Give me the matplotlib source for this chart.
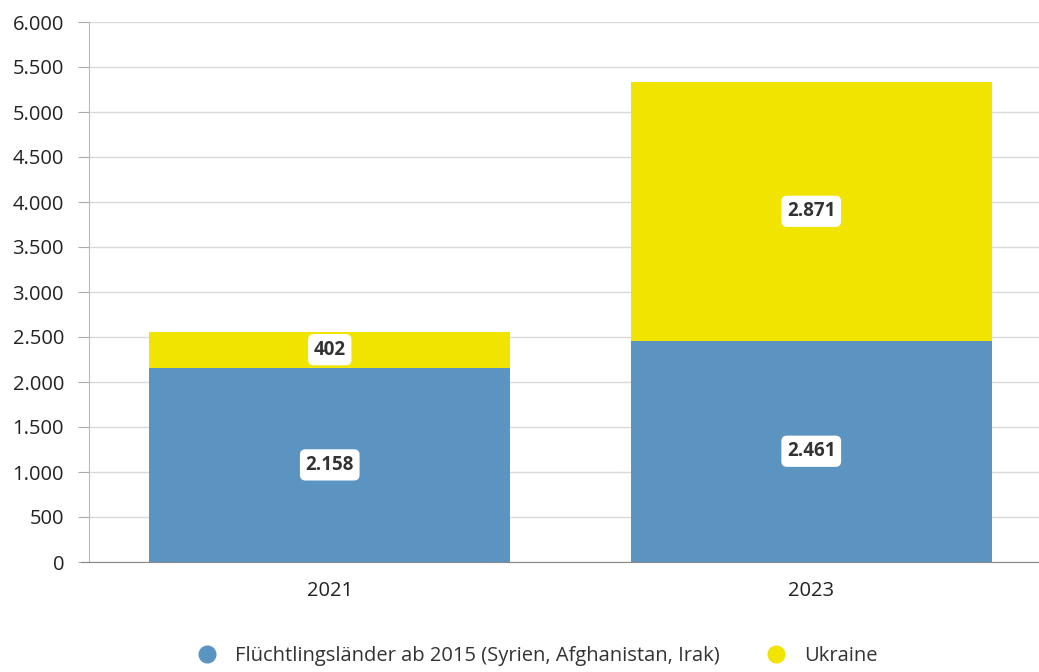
import matplotlib.pyplot as plt
from matplotlib.lines import Line2D

plt.rcParams['font.family'] = ['Open Sans', 'DejaVu Sans']

years = ['2021', '2023']
fluecht = [2158, 2461]
ukraine = [402, 2871]
labels_f = ['2.158', '2.461']
labels_u = ['402', '2.871']
yticks = [0, 500, 1000, 1500, 2000, 2500, 3000, 3500, 4000, 4500, 5000, 5500, 6000]
ytick_labels = ['0', '500', '1.000', '1.500', '2.000', '2.500', '3.000', '3.500',
                '4.000', '4.500', '5.000', '5.500', '6.000']

blue = '#5b94c1'
yellow = '#f0e400'

fig = plt.figure(figsize=(10.39, 6.72), dpi=100)
ax = fig.add_axes([89/1039, 110/672, 963/1039, 540/672])

x = range(len(years))
ax.bar(x, fluecht, width=0.75, color=blue, zorder=2)
ax.bar(x, ukraine, width=0.75, bottom=fluecht, color=yellow, zorder=2)

box = dict(boxstyle='round,pad=0.3,rounding_size=0.3', fc='white', ec='none')
for i in x:
    ax.text(i, fluecht[i] / 2, labels_f[i], ha='center', va='center',
            fontsize=13.5, fontweight='bold', color='#333333', bbox=box, zorder=3)
    ax.text(i, fluecht[i] + ukraine[i] / 2, labels_u[i], ha='center', va='center',
            fontsize=13.5, fontweight='bold', color='#333333', bbox=box, zorder=3)

ax.set_xlim(-0.5, 1.5)
ax.set_ylim(0, 6000)
ax.set_yticks(yticks)
ax.set_yticklabels(ytick_labels, fontsize=14.5, color='#222222')
ax.set_xticks(list(x))
ax.set_xticklabels(years, fontsize=14.5, color='#222222')
ax.tick_params(axis='y', length=8, color='#aaaaaa', pad=10)
ax.tick_params(axis='x', length=0, pad=14)
ax.grid(axis='y', color='#d9d9d9', linewidth=1, zorder=0)
for s in ['top', 'right']:
    ax.spines[s].set_visible(False)
ax.spines['left'].set_color('#bbbbbb')
ax.spines['bottom'].set_color('#888888')
ax.spines['bottom'].set_bounds(-0.5 - 8 / 481.5, 1.5)

handles = [Line2D([], [], marker='o', linestyle='', markersize=12, color=blue),
           Line2D([], [], marker='o', linestyle='', markersize=12, color=yellow)]
fig.legend(handles, ['Flüchtlingsländer ab 2015 (Syrien, Afghanistan, Irak)', 'Ukraine'],
           loc='center', bbox_to_anchor=(532/1039, 1 - 656/672), ncol=2, frameon=False,
           fontsize=14.5, handletextpad=0.4, columnspacing=1.8, labelcolor='#333333')

fig.savefig('out.png', dpi=100)
